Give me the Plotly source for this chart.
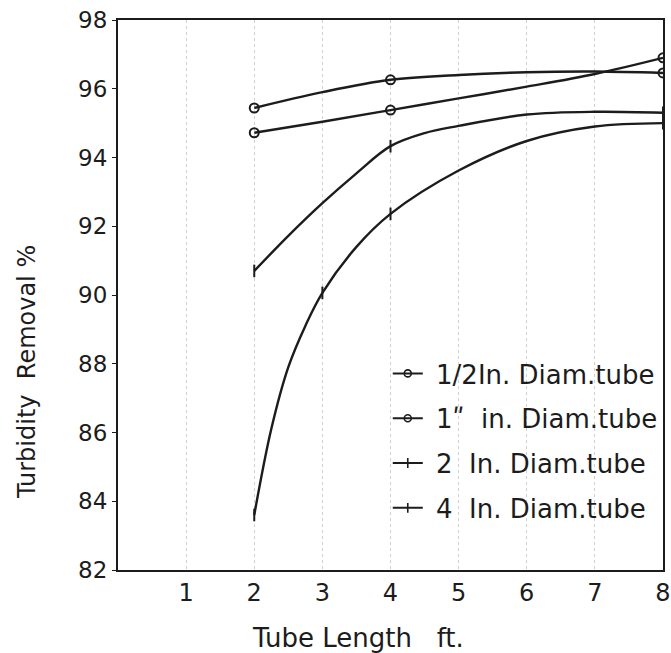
import plotly.graph_objects as go

# Curve values (Tube length ft -> Turbidity removal %)
x_half_curve = [2, 3, 4, 5, 6, 7, 8]
half_in_curve = [95.44, 95.9, 96.26, 96.4, 96.48, 96.5, 96.46]
x_one_curve = [2, 3, 4, 5, 6, 7, 8]
one_in_curve = [94.72, 95.04, 95.38, 95.72, 96.06, 96.43, 96.9]
x_two_curve = [2, 2.5, 3, 3.5, 4, 4.5, 5, 6, 7, 8]
two_in_curve = [90.7, 91.72, 92.67, 93.54, 94.33, 94.71, 94.92, 95.25, 95.33, 95.3]
x_four_curve = [2, 2.25, 2.5, 2.75, 3, 3.5, 4, 5, 6, 7, 8]
four_in_curve = [83.6, 86.1, 87.9, 89.1, 90.06, 91.4, 92.36, 93.62, 94.48, 94.9, 95.0]

# Measured points (markers)
x_half = [2, 4, 8]
y_half = [95.44, 96.26, 96.46]
x_one = [2, 4, 8]
y_one = [94.72, 95.38, 96.9]
x_two = [2, 4, 8]
y_two = [90.7, 94.33, 95.3]
x_four = [2, 3, 4, 8]
y_four = [83.6, 90.06, 92.36, 95.0]

names = ["\u00a01/2In. Diam.tube", "\u00a01\u02ba  in. Diam.tube",
         "\u00a02  In. Diam.tube", "\u00a04  In. Diam.tube"]
x_ticks = [1, 2, 3, 4, 5, 6, 7, 8]
y_ticks = [82, 84, 86, 88, 90, 92, 94, 96, 98]
x_title = "Tube Length   ft."
y_title = "Turbidity  Removal %"

INK = "#1c1c1c"
FONT = "DejaVu Sans"

series = [
    (x_half_curve, half_in_curve, x_half, y_half, "circle-open"),
    (x_one_curve, one_in_curve, x_one, y_one, "circle-open"),
    (x_two_curve, two_in_curve, x_two, y_two, "line-ns-open"),
    (x_four_curve, four_in_curve, x_four, y_four, "line-ns-open"),
]

fig = go.Figure()
for i, (xc, yc, xm, ym, sym) in enumerate(series):
    fig.add_trace(go.Scatter(
        x=xc, y=yc, mode="lines",
        line=dict(color=INK, width=2.4, shape="spline", smoothing=1.0),
        showlegend=False, hoverinfo="skip"))
    fig.add_trace(go.Scatter(
        x=xm, y=ym, mode="markers",
        marker=dict(symbol=sym, size=9, color=INK, line=dict(color=INK, width=2)),
        showlegend=False))
    fig.add_trace(go.Scatter(
        x=[None], y=[None], mode="lines+markers", name=names[i],
        line=dict(color=INK, width=2),
        marker=dict(symbol=sym, size=7, color=INK, line=dict(color=INK, width=1.6)),
        legendgroup=str(i)))

fig.update_layout(
    width=671, height=653,
    margin=dict(l=118, r=8, t=20, b=83),
    paper_bgcolor="white", plot_bgcolor="white",
    font=dict(family=FONT, color=INK, size=18),
    showlegend=True,
    legend=dict(x=0.495, y=0.40, xanchor="left", yanchor="top",
                bgcolor="rgba(0,0,0,0)", font=dict(size=26, family=FONT, color=INK),
                tracegroupgap=8, itemwidth=30),
    xaxis=dict(range=[0, 8], tickvals=x_ticks, ticktext=[str(v) for v in x_ticks],
               showgrid=True, gridcolor="#d0d0d0", griddash="dot", gridwidth=1,
               zeroline=False, showline=True, linecolor=INK, linewidth=2,
               mirror=True, ticks="", tickfont=dict(size=24), automargin=False),
    yaxis=dict(range=[82, 98], tickvals=y_ticks, ticktext=[str(v) for v in y_ticks],
               showgrid=False, zeroline=False, showline=True, linecolor=INK, linewidth=2,
               mirror=True, ticks="outside", ticklen=4, tickcolor=INK, tickfont=dict(size=23),
               automargin=False),
    annotations=[
        dict(text=x_title, xref="paper", yref="paper", x=0.44, y=-0.124,
             xanchor="center", yanchor="middle", showarrow=False, font=dict(size=26)),
        dict(text=y_title, xref="paper", yref="paper", x=-0.167, y=0.36,
             xanchor="center", yanchor="middle", showarrow=False, textangle=-90,
             font=dict(size=24)),
    ],
)

fig.write_html("out.html", config={"displayModeBar": False},
               post_script="document.body.style.margin='0';")
